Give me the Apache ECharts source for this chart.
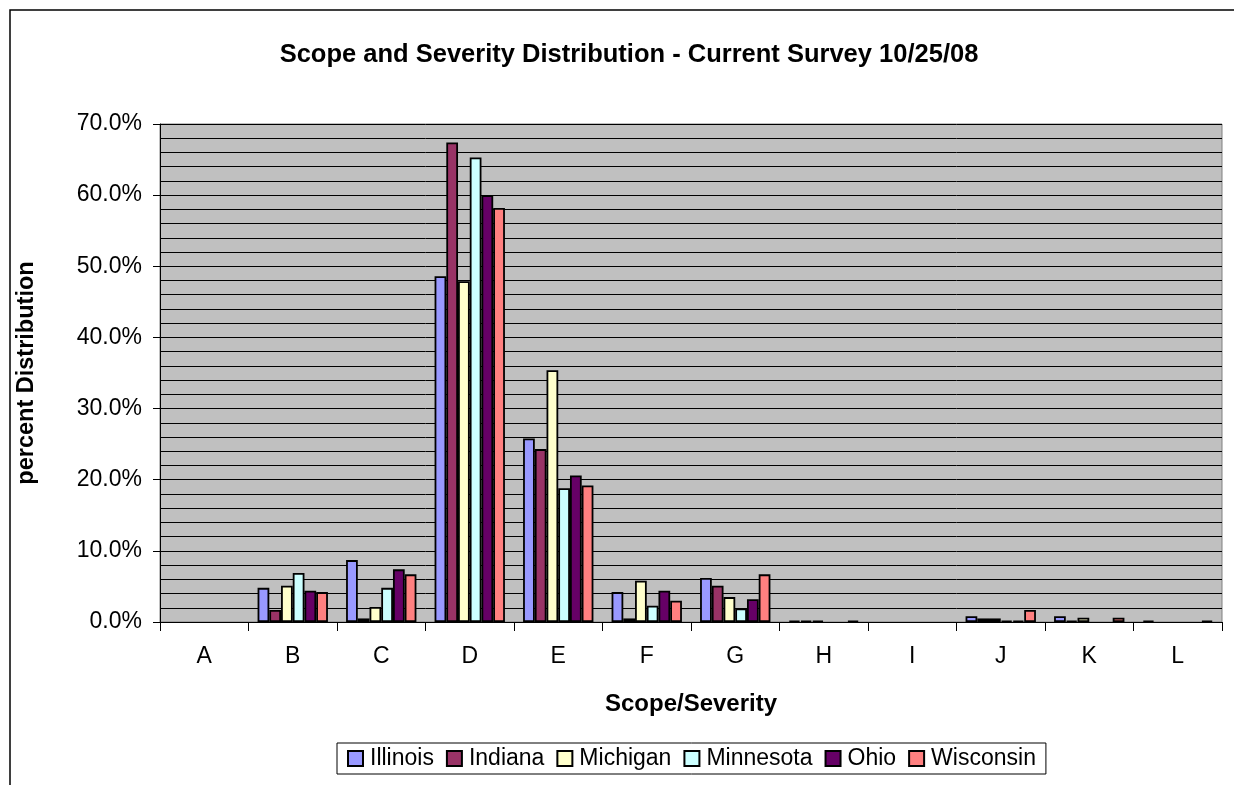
<!DOCTYPE html>
<html>
<head>
<meta charset="utf-8">
<script src="https://cdn.jsdelivr.net/npm/echarts@6/dist/echarts.min.js"></script>
<style>
html,body{margin:0;padding:0;background:#fff;}
#c{width:1234px;height:785px;}
</style>
</head>
<body>
<div id="c"></div>
<script>
const categories = ['A','B','C','D','E','F','G','H','I','J','K','L'];
const illinois  = [0, 4.8, 8.7, 48.6, 25.8, 4.2, 6.2, 0.2, 0, 0.8, 0.8, 0.2];
const indiana   = [0, 1.7, 0.5, 67.4, 24.3, 0.5, 5.1, 0.2, 0, 0.5, 0.2, 0];
const michigan  = [0, 5.1, 2.1, 47.9, 35.4, 5.8, 3.5, 0.2, 0, 0.5, 0.6, 0];
const minnesota = [0, 6.9, 4.8, 65.3, 18.8, 2.3, 1.9, 0, 0, 0.2, 0, 0];
const ohio      = [0, 4.4, 7.4, 60.0, 20.6, 4.4, 3.2, 0, 0, 0.2, 0, 0];
const wisconsin = [0, 4.2, 6.7, 58.2, 19.2, 3.0, 6.7, 0.2, 0, 1.7, 0.6, 0.2];
const seriesNames = ['Illinois','Indiana','Michigan','Minnesota','Ohio','Wisconsin'];
const seriesData = [illinois, indiana, michigan, minnesota, ohio, wisconsin];
const colors = ['#9999FF','#993366','#FFFFCC','#CCFFFF','#660066','#FF8080'];

const FONT = '"Liberation Sans", Arial, sans-serif';
const chart = echarts.init(document.getElementById('c'));
chart.setOption({
  animation: false,
  textStyle: {fontFamily: FONT, color: '#000'},
  title: {
    text: 'Scope and Severity Distribution - Current Survey 10/25/08',
    left: 624, top: 37, textAlign: 'center',
    textStyle: {fontFamily: FONT, fontSize: 25.5, fontWeight: 'bold', color: '#000'}
  },
  graphic: [{
    type: 'polyline',
    shape: {points: [[10, 785], [10, 10], [1234, 10]]},
    style: {stroke: '#000', lineWidth: 1.5, fill: null}
  }],
  legend: {
    left: 337, top: 743,
    data: seriesNames,
    icon: 'rect', itemWidth: 15, itemHeight: 15, itemGap: 12,
    borderColor: '#000', borderWidth: 1,
    padding: [4, 10, 4, 10],
    textStyle: {fontFamily: FONT, fontSize: 23, color: '#000', padding: [0, 0, 0, 2]}
  },
  grid: {
    left: 160, right: 12, top: 124, bottom: 163,
    show: true, backgroundColor: '#C0C0C0', borderColor: '#808080', borderWidth: 1
  },
  xAxis: {
    type: 'category', data: categories,
    name: 'Scope/Severity', nameLocation: 'middle', nameGap: 70,
    nameTextStyle: {fontFamily: FONT, fontSize: 24, fontWeight: 'bold', color: '#000'},
    axisLine: {lineStyle: {color: '#000', width: 1}},
    axisTick: {show: true, length: 9, lineStyle: {color: '#000'}},
    axisLabel: {fontFamily: FONT, fontSize: 23, color: '#000', margin: 23},
    splitLine: {show: false}
  },
  yAxis: {
    type: 'value', min: 0, max: 70, interval: 10,
    name: 'percent Distribution', nameLocation: 'middle', nameGap: 121, nameRotate: 90,
    nameTextStyle: {fontFamily: FONT, fontSize: 23.5, fontWeight: 'bold', color: '#000'},
    axisLine: {show: true, lineStyle: {color: '#000', width: 1}},
    axisTick: {show: true, length: 7, lineStyle: {color: '#000'}},
    axisLabel: {fontFamily: FONT, fontSize: 23, color: '#000', margin: 18,
      formatter: v => v.toFixed(1) + '%'},
    splitLine: {show: true, lineStyle: {color: '#000', width: 1}},
    minorTick: {show: false, splitNumber: 5},
    minorSplitLine: {show: true, lineStyle: {color: '#000', width: 1}}
  },
  series: seriesNames.map((n, i) => ({
    name: n, type: 'bar', data: seriesData[i].map(v => v === 0 ? '-' : v),
    barGap: 0, barCategoryGap: '20.5%',
    itemStyle: {color: colors[i], borderColor: '#000', borderWidth: 1.8}
  }))
});
</script>
</body>
</html>
